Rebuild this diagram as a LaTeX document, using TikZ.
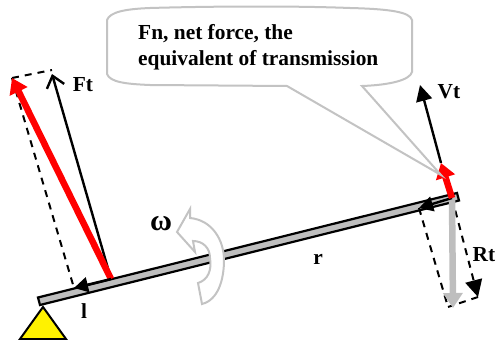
\documentclass[tikz,border=0pt]{standalone}
\usepackage{fontspec}
\setmainfont{Liberation Serif}
\usetikzlibrary{arrows.meta,positioning}
\definecolor{leverfill}{RGB}{190,190,190}
\definecolor{bubbleline}{RGB}{195,195,195}
\tikzset{
  lbl/.style={font=\fontsize{21.4}{24}\selectfont\bfseries, inner sep=0pt},
  dashln/.style={draw=black, line width=2pt, dash pattern=on 7pt off 6pt},
  bubble/.style={draw=bubbleline, line width=2pt, fill=white},
  redar/.style={draw=red, line width=6.5pt, -{Triangle[width=19pt,length=15pt]}},
  blkar/.style={draw=black, line width=2.4pt},
}
\begin{document}
\begin{tikzpicture}[x=1pt,y=-1pt]
\useasboundingbox (0,0) rectangle (496,340);

% ================= support and lever =================
\draw[black, line width=2pt, fill=yellow] (43,307) -- (66,339) -- (20,339) -- cycle;
\draw[black, line width=2.2pt, fill=leverfill] (38,297.5) -- (457,193) -- (459,200.5) -- (40,305) -- cycle;

% ================= points =================
\coordinate (pivotL) at (111,279);
\coordinate (pivotR) at (452,198);
\coordinate (tipF) at (12,78);
\coordinate (cornerF) at (52,70);
\coordinate (tipFt) at (52,74);
\coordinate (tipL) at (74,288);
\coordinate (tipR) at (419,208);
\coordinate (tipRed) at (441,163);
\coordinate (tipV) at (420,85);
\coordinate (tipG) at (453,308);
\coordinate (tipD) at (478,297);
\coordinate (cornerD) at (448,307);

% ================= dashed frames =================
\draw[dashln] (tipF) -- (cornerF);
\draw[dashln] (tipF) -- (tipL);
\draw[dashln] (tipR) -- (cornerD);
\draw[dashln] (tipD) -- (cornerD);
\draw[dashln, -{Triangle[width=17pt,length=17pt]}] (pivotR) -- (tipD);

% ================= forces =================
\draw[-{Straight Barb[length=11pt,width=18pt]}, blkar] (pivotL) -- (tipFt);
\draw[redar] (pivotL) -- (tipF);
\draw[-{Triangle[width=15pt,length=14pt]}, blkar] (pivotL) -- (tipL);
\draw[draw=leverfill, line width=6.5pt, -{Triangle[width=19pt,length=15pt]}] (pivotR) -- (tipG);
\draw[-{Triangle[width=15pt,length=14pt]}, blkar] (pivotR) -- (tipR);
\draw[-{Triangle[width=16pt,length=16pt]}, blkar] (tipRed) -- (tipV);
\draw[redar] (pivotR) -- (tipRed);

% ================= bubble =================
\draw[bubble] (107,20) .. controls (110,12) and (125,9) .. (150,8)
  .. controls (220,6) and (300,6) .. (350,8)
  .. controls (390,9) and (410,12) .. (412,20)
  -- (412,72) .. controls (410,80) and (390,85) .. (362,86)
  -- (441,175) -- (287,86) -- (150,85)
  .. controls (125,84) and (110,82) .. (107,74) -- cycle;
\node[lbl, anchor=base west] (notetext) at (138,39) {Fn, net force, the};
\node[lbl, anchor=base west] (notetextb) at (138,65) {equivalent of transmission};

% ================= rotation =================
\draw[draw=bubbleline, line width=2pt, fill=white] (190,209) -- (177,232) -- (195,252)
  -- (193,241) .. controls (203,241) and (210,248) .. (210,258)
  .. controls (212,270) and (208,280) .. (198,283)
  -- (202,304) .. controls (218,300) and (224,280) .. (224,260)
  .. controls (224,240) and (212,220) .. (190,218) -- cycle;

% ================= labels =================
\node[lbl] (ftlabel) at (83,85) {Ft};
\node[lbl] (vtlabel) at (449,92) {Vt};
\node[lbl, anchor=east] (rtlabel) at (495.5,255) {Rt};
\node[lbl] (rlabel) at (318,259) {r};
\node[lbl] (llabel) at (84,311) {l};
\node[font=\fontsize{30}{30}\selectfont\bfseries, inner sep=0pt] (omega) at (161,224) {\char"03C9};
\end{tikzpicture}
\end{document}
